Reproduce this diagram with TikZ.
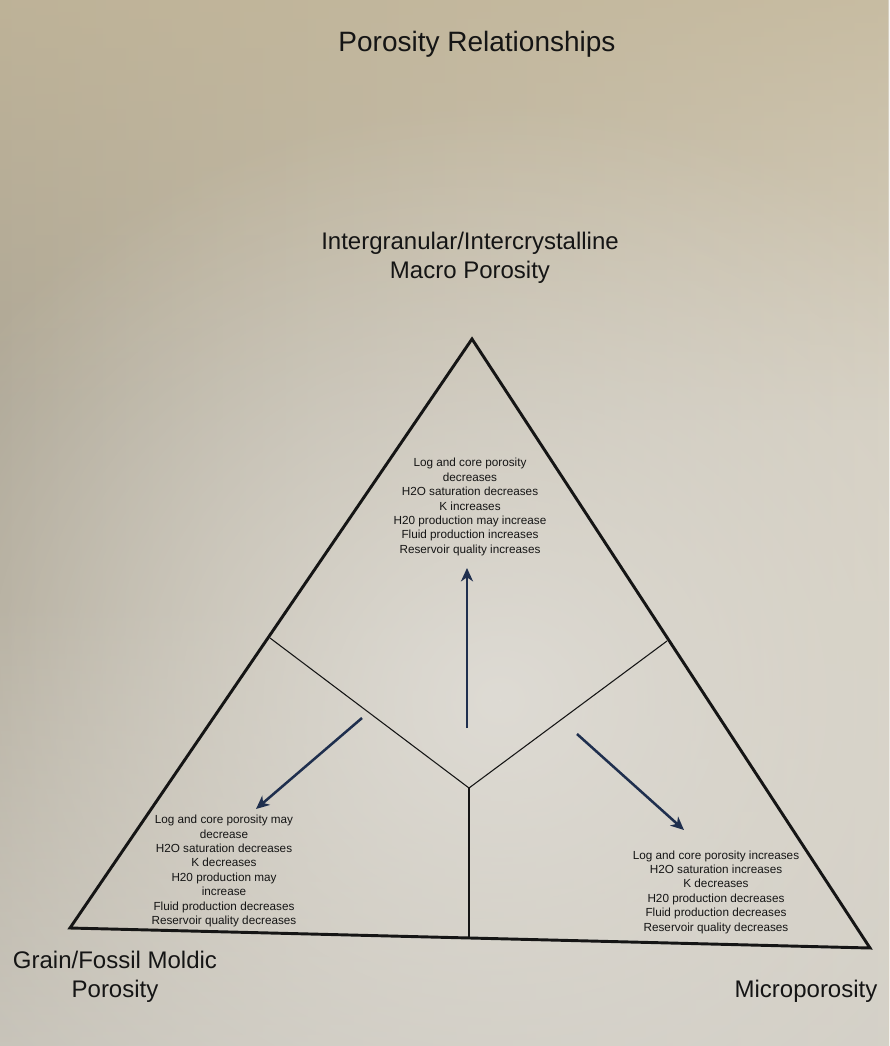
\documentclass[tikz,border=0pt]{standalone}
\usepackage{fontspec}
\setmainfont{Liberation Sans}
\usetikzlibrary{arrows.meta,fadings}
\definecolor{paperL}{HTML}{AFA897}
\definecolor{paperR}{HTML}{D5CFC1}
\definecolor{paperC}{HTML}{DEDBD4}
\definecolor{paperB}{HTML}{D2CFC8}
\definecolor{paperTop}{HTML}{C3B698}
\definecolor{ink}{HTML}{151515}
\definecolor{arrowblue}{HTML}{1F2F4E}
\tikzfading[name=topfade, top color=transparent!25, bottom color=transparent!100]
\tikzfading[name=bottomfade, top color=transparent!100, bottom color=transparent!30]
\tikzfading[name=softglow, inner color=transparent!0, outer color=transparent!100]
\tikzset{
  heading/.style={font=\fontsize{21}{25}\selectfont, text=ink, inner sep=0pt},
  cornerlabel/.style={font=\fontsize{18}{21.8}\selectfont, text=ink, align=center, inner sep=0pt},
  effects/.style={font=\fontsize{8.8}{10.8}\selectfont, text=ink, align=center, inner sep=0pt},
  outline/.style={draw=ink, line width=2.2pt, line join=miter},
  divider/.style={draw=ink, line width=0.8pt},
  trend/.style={draw=arrowblue, line width=1.9pt, -{Stealth[length=10pt, width=9pt, inset=3pt]}}
}
\begin{document}
\begin{tikzpicture}[x=0.75pt, y=-0.75pt]
\useasboundingbox (0,0) rectangle (889,1046);
% paper background
\shade[left color=paperL, right color=paperR] (0,0) rectangle (889,1046);
\fill[paperTop, path fading=topfade] (0,0) rectangle (889,420);
\fill[paperB, path fading=bottomfade] (0,600) rectangle (889,1046);
\fill[paperC, path fading=softglow] (500,700) ellipse [x radius=650, y radius=600];
% corners of the triangle
\coordinate (A) at (472,339);
\coordinate (B) at (70,928);
\coordinate (C) at (870,948);
\coordinate (L) at (270,638);
\coordinate (R) at (667,641);
\coordinate (O) at (469,788);
\coordinate (D) at (469,938);
% arrow ends
\coordinate (upTail) at (467,728);
\coordinate (upTip) at (467,568);
\coordinate (lTail) at (362,718);
\coordinate (lTip) at (256,809);
\coordinate (rTail) at (577,734);
\coordinate (rTip) at (684,830);
% triangle and dividers
\draw[divider] (L) -- (O) -- (R);
\draw[divider] (O) -- (D);
\draw[outline] (A) -- (B) -- (C) -- cycle;
% arrows
\draw[trend] (upTail) -- (upTip);
\draw[trend] (lTail) -- (lTip);
\draw[trend] (rTail) -- (rTip);
% texts
\node[heading] (title) at (477,44) {Porosity Relationships};
\node[cornerlabel] (macro) at (470,258) {Intergranular/Intercrystalline\\Macro Porosity};
\node[cornerlabel] (moldic) at (115,977) {Grain/Fossil Moldic\\Porosity};
\node[cornerlabel] (micro) at (806,991) {Microporosity};
\node[effects] (topfx) at (470,507) {Log and core porosity\\decreases\\H2O saturation decreases\\K increases\\H20 production may increase\\Fluid production increases\\Reservoir quality increases};
\node[effects] (leftfx) at (224,871) {Log and core porosity may\\decrease\\H2O saturation decreases\\K decreases\\H20 production may\\increase\\Fluid production decreases\\Reservoir quality decreases};
\node[effects] (rightfx) at (716,892) {Log and core porosity increases\\H2O saturation increases\\K decreases\\H20 production decreases\\Fluid production decreases\\Reservoir quality decreases};
\end{tikzpicture}
\end{document}
